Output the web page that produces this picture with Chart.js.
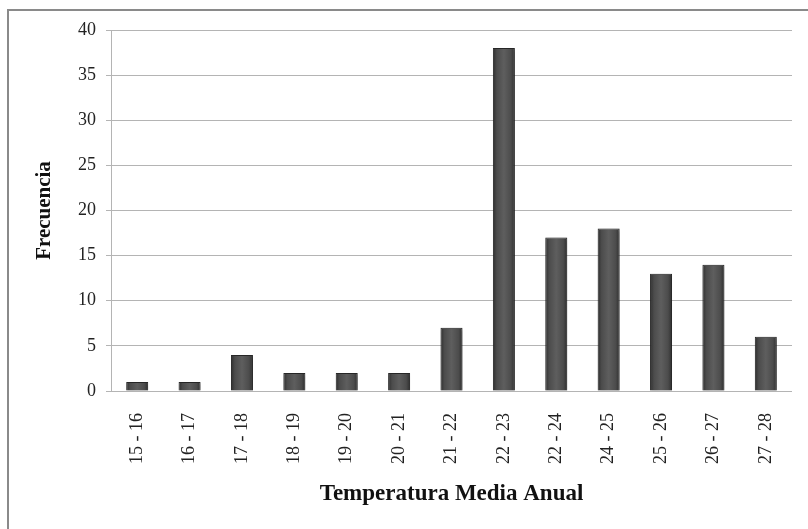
<!DOCTYPE html>
<html>
<head>
<meta charset="utf-8">
<script src="https://cdn.jsdelivr.net/npm/chart.js@4/dist/chart.umd.min.js"></script>
<style>
  html, body { margin: 0; padding: 0; background: #fff; }
  #wrap { width: 808px; height: 529px; }
</style>
</head>
<body>
<div id="wrap"><canvas id="chart" width="808" height="529"></canvas></div>
<script>
// Frequency of annual mean temperature classes
const categories = ['15 - 16', '16 - 17', '17 - 18', '18 - 19', '19 - 20', '20 - 21', '21 - 22',
                    '22 - 23', '22 - 24', '24 - 25', '25 - 26', '26 - 27', '27 - 28'];
const frequencies = [1, 1, 4, 2, 2, 2, 7, 38, 17, 18, 13, 14, 6];
const yTicks = [0, 5, 10, 15, 20, 25, 30, 35, 40];

const serif = "'Liberation Serif', 'Times New Roman', serif";
const BAR_PCT = 0.42;

// cylinder-like shading across each bar
function barFill(context) {
    const chart = context.chart;
    const xs = chart.scales.x;
    if (!xs || !chart.chartArea) return '#555';
    const cx = xs.getPixelForValue(context.dataIndex);
    const half = xs.width / categories.length * BAR_PCT / 2;
    const g = chart.ctx.createLinearGradient(cx - half, 0, cx + half, 0);
    g.addColorStop(0, '#2e2e2e');
    g.addColorStop(0.18, '#4c4c4c');
    g.addColorStop(0.5, '#5e5e5e');
    g.addColorStop(0.82, '#4c4c4c');
    g.addColorStop(1, '#2e2e2e');
    return g;
}

// outer frame and soft shadow under bars
const framePlugin = {
    id: 'frame',
    beforeDraw(chart) {
        const ctx = chart.ctx;
        ctx.save();
        ctx.strokeStyle = '#8a8a8a';
        ctx.lineWidth = 2;
        ctx.beginPath();
        ctx.moveTo(8, 540);
        ctx.lineTo(8, 10);
        ctx.lineTo(820, 10);
        ctx.stroke();
        ctx.restore();
    },
    beforeDatasetsDraw(chart) {
        const ctx = chart.ctx;
        ctx.save();
        ctx.shadowColor = 'rgba(0,0,0,0.35)';
        ctx.shadowBlur = 4;
        ctx.shadowOffsetX = 1;
        ctx.shadowOffsetY = 1;
    },
    afterDatasetsDraw(chart) {
        chart.ctx.restore();
    }
};

new Chart(document.getElementById('chart'), {
    type: 'bar',
    data: {
        labels: categories,
        datasets: [{
            data: frequencies,
            backgroundColor: barFill,
            borderColor: '#2a2a2a',
            borderWidth: 1,
            barPercentage: BAR_PCT,
            categoryPercentage: 1
        }]
    },
    options: {
        responsive: false,
        animation: false,
        layout: { padding: { left: 28, top: 30, right: 16, bottom: 17 } },
        plugins: {
            legend: { display: false },
            tooltip: { enabled: false }
        },
        scales: {
            x: {
                grid: { display: false },
                border: { display: false },
                ticks: {
                    minRotation: 90,
                    maxRotation: 90,
                    autoSkip: false,
                    padding: 14,
                    color: '#222',
                    font: { family: serif, size: 18 }
                },
                title: {
                    display: true,
                    text: 'Temperatura Media Anual',
                    color: '#111',
                    padding: { top: 0, bottom: 4 },
                    font: { family: serif, size: 23, weight: 'bold' }
                },
                afterFit(scale) { scale.height = 529 - 391 - 17; }
            },
            y: {
                min: 0,
                max: 40,
                afterBuildTicks(scale) { scale.ticks = yTicks.map(v => ({ value: v })); },
                grid: { color: '#b4b4b4', lineWidth: 1, tickLength: 5 },
                border: { display: true, color: '#b4b4b4' },
                ticks: {
                    padding: 10,
                    color: '#222',
                    font: { family: serif, size: 18 }
                },
                title: {
                    display: true,
                    text: 'Frecuencia',
                    color: '#111',
                    padding: { top: 4, bottom: 0 },
                    font: { family: serif, size: 21, weight: 'bold' }
                },
                afterFit(scale) { scale.width = 111 - 28; }
            }
        }
    },
    plugins: [framePlugin]
});
</script>
</body>
</html>
